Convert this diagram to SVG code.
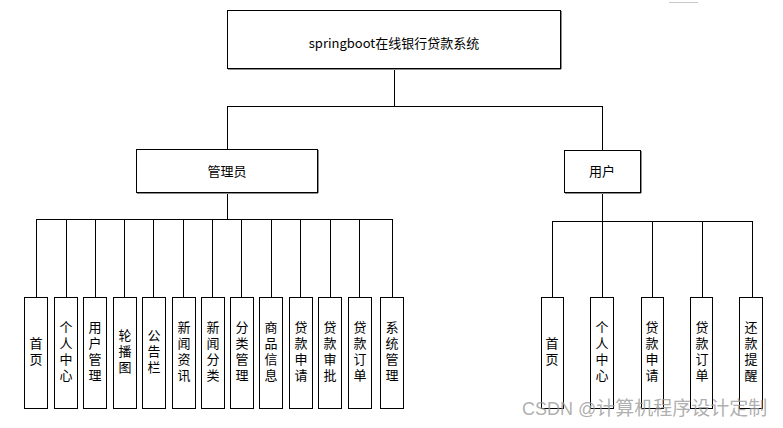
<svg xmlns="http://www.w3.org/2000/svg" width="783" height="428" viewBox="0 0 783 428">
<style>
.box{fill:#fff;stroke:#000;stroke-width:1}
.sh{fill:none;stroke:#8c8c8c;stroke-width:1}
.ln{stroke:#000;stroke-width:1;fill:none}
.t{font-family:"Noto Sans CJK SC","Liberation Sans",sans-serif;font-size:13px;fill:#000;text-anchor:middle}
.v{font-family:"Noto Sans CJK SC","Liberation Sans",sans-serif;font-size:13px;fill:#000;text-anchor:middle;writing-mode:vertical-rl;letter-spacing:3px}
.wm{font-family:"Liberation Sans","Noto Sans CJK SC",sans-serif;font-size:18px;fill:#9a9a9a;fill-opacity:0.8}
</style>
<rect width="783" height="428" fill="#fff"/>
<line x1="669" y1="2.5" x2="698" y2="2.5" stroke="#c8c8c8" stroke-width="1"/>
<g id="connectors">
<path class="ln" d="M394.5 68V106.5M227.5 106.5H602.5M227.5 106V149M602.5 106V150"/>
<path class="ln" d="M227.5 192V219.5M36.5 219.5H392.5"/>
<path class="ln" d="M36.5 219V297M66.5 219V297M95.5 219V297M124.5 219V297M153.5 219V297M183.5 219V297M212.5 219V297M241.5 219V297M271.5 219V297M300.5 219V297M330.5 219V297M359.5 219V297M392.5 219V297"/>
<path class="ln" d="M602.5 192V221.5M552.5 221.5H752.5"/>
<path class="ln" d="M552.5 221V297M602.5 221V297M652.5 221V297M702.5 221V297M752.5 221V297"/>
</g>
<g id="root">
<path class="sh" d="M561.5 11V69M228 69.5H561"/>
<rect class="box" x="227.5" y="10.5" width="333" height="58"/>
<text class="t" x="394" y="48">springboot在线银行贷款系统</text>
</g>
<g id="admin">
<path class="sh" d="M318.5 150V193M137 193.5H318"/>
<rect class="box" x="136.5" y="149.5" width="181" height="43"/>
<text class="t" x="227" y="176">管理员</text>
</g>
<g id="user">
<path class="sh" d="M641.5 151V193M565 193.5H641"/>
<rect class="box" x="564.5" y="150.5" width="76" height="42"/>
<text class="t" x="602" y="176">用户</text>
</g>
<g id="a1"><rect class="box" x="24.5" y="297.5" width="23" height="111"/><text class="v" x="36" y="353">首页</text></g>
<g id="a2"><rect class="box" x="54.5" y="297.5" width="23" height="111"/><text class="v" x="66" y="353">个人中心</text></g>
<g id="a3"><rect class="box" x="83.5" y="297.5" width="23" height="111"/><text class="v" x="95" y="353">用户管理</text></g>
<g id="a4"><rect class="box" x="113.5" y="297.5" width="23" height="111"/><text class="v" x="125" y="353">轮播图</text></g>
<g id="a5"><rect class="box" x="142.5" y="297.5" width="23" height="111"/><text class="v" x="154" y="353">公告栏</text></g>
<g id="a6"><rect class="box" x="172.5" y="297.5" width="23" height="111"/><text class="v" x="184" y="353">新闻资讯</text></g>
<g id="a7"><rect class="box" x="201.5" y="297.5" width="23" height="111"/><text class="v" x="213" y="353">新闻分类</text></g>
<g id="a8"><rect class="box" x="230.5" y="297.5" width="23" height="111"/><text class="v" x="242" y="353">分类管理</text></g>
<g id="a9"><rect class="box" x="259.5" y="297.5" width="23" height="111"/><text class="v" x="271" y="353">商品信息</text></g>
<g id="a10"><rect class="box" x="289.5" y="297.5" width="23" height="111"/><text class="v" x="301" y="353">贷款申请</text></g>
<g id="a11"><rect class="box" x="318.5" y="297.5" width="23" height="111"/><text class="v" x="330" y="353">贷款审批</text></g>
<g id="a12"><rect class="box" x="348.5" y="297.5" width="23" height="111"/><text class="v" x="360" y="353">贷款订单</text></g>
<g id="a13"><rect class="box" x="380.5" y="297.5" width="23" height="111"/><text class="v" x="392" y="353">系统管理</text></g>
<g id="u1"><rect class="box" x="541.5" y="297.5" width="22" height="111"/><text class="v" x="552" y="353">首页</text></g>
<g id="u2"><rect class="box" x="590.5" y="297.5" width="23" height="111"/><text class="v" x="602" y="353">个人中心</text></g>
<g id="u3"><rect class="box" x="641.5" y="297.5" width="22" height="111"/><text class="v" x="652" y="353">贷款申请</text></g>
<g id="u4"><rect class="box" x="690.5" y="297.5" width="22" height="111"/><text class="v" x="702" y="353">贷款订单</text></g>
<g id="u5"><rect class="box" x="739.5" y="297.5" width="23" height="111"/><text class="v" x="751" y="353">还款提醒</text></g>
<text class="wm" x="522" y="415">CSDN @<tspan font-family="Noto Sans CJK SC, sans-serif" font-size="19">计算机程序设计定制</tspan></text>
</svg>
